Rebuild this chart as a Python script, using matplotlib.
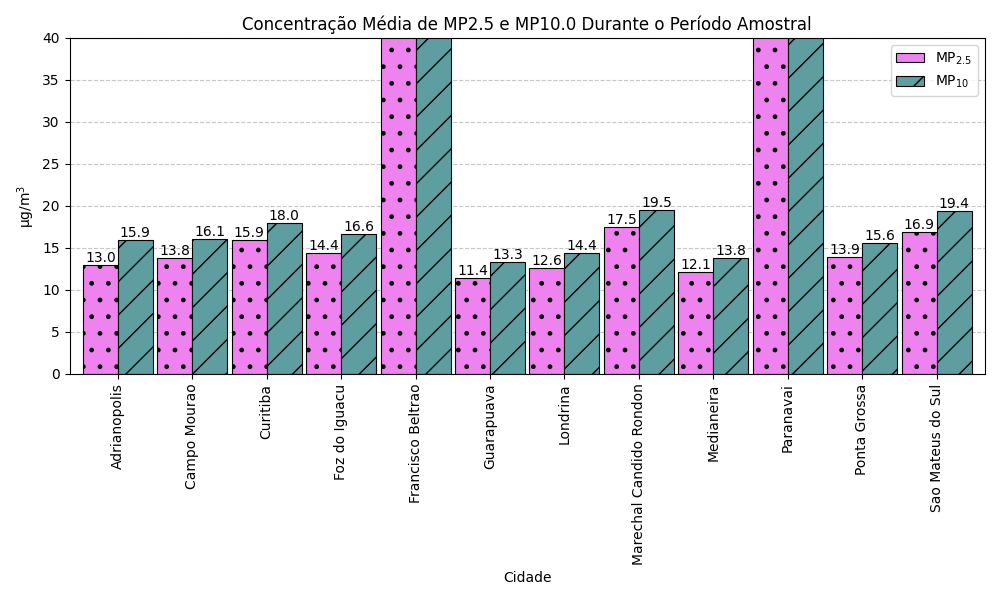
import numpy as np
import matplotlib.pyplot as plt

cidades = ['Adrianopolis', 'Campo Mourao', 'Curitiba', 'Foz do Iguacu', 'Francisco Beltrao',
           'Guarapuava', 'Londrina', 'Marechal Candido Rondon', 'Medianeira', 'Paranavai',
           'Ponta Grossa', 'Sao Mateus do Sul']
mp25 = [13.0, 13.8, 15.9, 14.4, 48.0, 11.4, 12.6, 17.5, 12.1, 52.0, 13.9, 16.9]
mp10 = [15.9, 16.1, 18.0, 16.6, 55.0, 13.3, 14.4, 19.5, 13.8, 60.0, 15.6, 19.4]

x = np.arange(len(cidades))
w = 0.47

fig, ax = plt.subplots(figsize=(10, 6), dpi=100)
ax.set_axisbelow(True)
ax.grid(axis='y', linestyle='--', alpha=0.7)
b1 = ax.bar(x - w / 2, mp25, w, color='violet', hatch='.', edgecolor='black', linewidth=0.8, label='MP$_{2.5}$')
b2 = ax.bar(x + w / 2, mp10, w, color='cadetblue', hatch='/', edgecolor='black', linewidth=0.8, label='MP$_{10}$')

for bars, vals in [(b1, mp25), (b2, mp10)]:
    for b, v in zip(bars, vals):
        if v < 40:
            ax.text(b.get_x() + b.get_width() / 2, v, f'{v:.1f}', ha='center', va='bottom', fontsize=10)

ax.set_ylim(0, 40)
ax.set_xlim(-0.65, len(cidades) - 0.35)
ax.set_xticks(x)
ax.set_xticklabels(cidades, rotation=90)
ax.set_xlabel('Cidade')
ax.set_ylabel('µg/m$^3$')
ax.set_title('Concentração Média de MP2.5 e MP10.0 Durante o Período Amostral')
ax.legend(loc='upper right')
fig.tight_layout()
fig.savefig('out.png')
